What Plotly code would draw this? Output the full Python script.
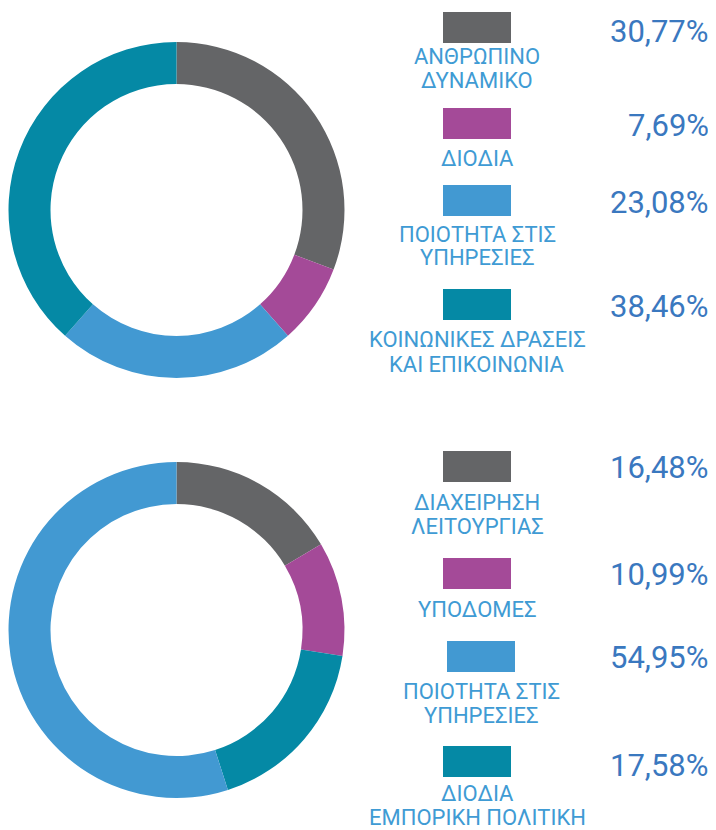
import plotly.graph_objects as go

# The page body has an 8px margin, so the figure starts at (8, 8) in the window.
OFF = 8
W, H = 716 - OFF, 830 - OFF

# ---- data ----
top_labels = ["ΑΝΘΡΩΠΙΝΟ<br>ΔΥΝΑΜΙΚΟ", "ΔΙΟΔΙΑ", "ΠΟΙΟΤΗΤΑ ΣΤΙΣ<br>ΥΠΗΡΕΣΙΕΣ", "ΚΟΙΝΩΝΙΚΕΣ ΔΡΑΣΕΙΣ<br>ΚΑΙ ΕΠΙΚΟΙΝΩΝΙΑ"]
top_values = [30.77, 7.69, 23.08, 38.46]
top_pct_text = ["30,77%", "7,69%", "23,08%", "38,46%"]

bottom_labels = ["ΔΙΑΧΕΙΡΗΣΗ<br>ΛΕΙΤΟΥΡΓΙΑΣ", "ΥΠΟΔΟΜΕΣ", "ΠΟΙΟΤΗΤΑ ΣΤΙΣ<br>ΥΠΗΡΕΣΙΕΣ", "ΔΙΟΔΙΑ<br>ΕΜΠΟΡΙΚΗ ΠΟΛΙΤΙΚΗ"]
bottom_values = [16.48, 10.99, 54.95, 17.58]
bottom_pct_text = ["16,48%", "10,99%", "54,95%", "17,58%"]
bottom_pie_order = [0, 1, 3, 2]  # clockwise order of slices in the ring

GRAY, PURPLE, LBLUE, TEAL = "#646567", "#A44A98", "#4299D2", "#0589A5"
top_colors = [GRAY, PURPLE, LBLUE, TEAL]
bottom_colors = [GRAY, PURPLE, LBLUE, TEAL]

LABEL_COLOR = "#3F9BD4"
PCT_COLOR = "#3A78BF"
FONT = "Roboto"

def px_x(x):
    return (x - OFF) / W

def px_y(y):
    return 1 - (y - OFF) / H

fig = go.Figure()

fig.add_trace(go.Pie(
    labels=[l.replace("<br>", " ") for l in top_labels], values=top_values,
    marker=dict(colors=top_colors, line=dict(width=0)),
    hole=0.75, sort=False, direction="clockwise", rotation=0,
    textinfo="none", hoverinfo="label+percent", showlegend=False,
    domain=dict(x=[px_x(8), px_x(345)], y=[px_y(378), px_y(42)]),
))
fig.add_trace(go.Pie(
    labels=[bottom_labels[i].replace("<br>", " ") for i in bottom_pie_order],
    values=[bottom_values[i] for i in bottom_pie_order],
    marker=dict(colors=[bottom_colors[i] for i in bottom_pie_order], line=dict(width=0)),
    hole=0.75, sort=False, direction="clockwise", rotation=0,
    textinfo="none", hoverinfo="label+percent", showlegend=False,
    domain=dict(x=[px_x(8), px_x(345)], y=[px_y(798), px_y(462)]),
))

# legend layout (window pixels): swatch top, swatch left, first label line center, line gap, pct center
top_layout = [(12, 443, 56, 24, 32), (108, 443, 158, 24, 125), (185, 443, 234, 24, 202), (289, 443, 340, 24, 307)]
bottom_layout = [(451, 443, 502, 24, 467), (558, 443, 609, 24, 574), (641, 447, 691, 24, 657), (746, 443, 793, 24, 765)]

shapes = []
annotations = []

def add_legend(labels, colors, pcts, layout):
    for lab, col, pct, (sy, sx, ly, gap, py) in zip(labels, colors, pcts, layout):
        shapes.append(dict(type="rect", xref="paper", yref="paper",
                           x0=px_x(sx), x1=px_x(sx + 68), y0=px_y(sy + 31), y1=px_y(sy),
                           fillcolor=col, line=dict(width=0), layer="above"))
        for i, line in enumerate(lab.split("<br>")):
            annotations.append(dict(xref="paper", yref="paper", x=px_x(sx + 34),
                                    y=px_y(ly + i * gap),
                                    xanchor="center", yanchor="middle", showarrow=False,
                                    text=line, align="center", borderpad=0,
                                    font=dict(family=FONT, size=22, color=LABEL_COLOR)))
        annotations.append(dict(xref="paper", yref="paper", x=px_x(711), y=px_y(py),
                                xanchor="right", yanchor="middle", showarrow=False,
                                text=pct, align="right",
                                font=dict(family=FONT, size=31, color=PCT_COLOR)))

add_legend(top_labels, top_colors, top_pct_text, top_layout)
add_legend(bottom_labels, bottom_colors, bottom_pct_text, bottom_layout)

fig.update_layout(
    width=W, height=H,
    margin=dict(l=0, r=0, t=0, b=0),
    paper_bgcolor="white", plot_bgcolor="white",
    shapes=shapes, annotations=annotations,
    font=dict(family=FONT),
)

fig.write_html("out.html")
